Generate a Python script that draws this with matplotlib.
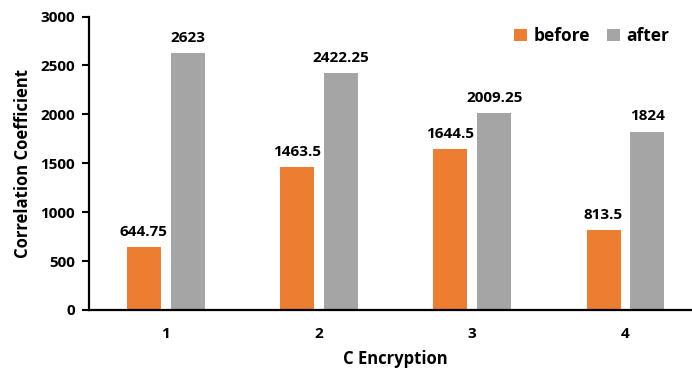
import matplotlib.pyplot as plt
import numpy as np

plt.rcParams['font.family'] = ['Open Sans', 'DejaVu Sans']
plt.rcParams['font.weight'] = 'bold'

categories = ['1', '2', '3', '4']
before = [644.75, 1463.5, 1644.5, 813.5]
after = [2623, 2422.25, 2009.25, 1824]
before_labels = ['644.75', '1463.5', '1644.5', '813.5']
after_labels = ['2623', '2422.25', '2009.25', '1824']

ORANGE = '#ED7D31'
GRAY = '#A5A5A5'

fig = plt.figure(figsize=(6.92, 3.69), dpi=100)
ax = fig.add_axes([0.1286, 0.160, 0.886, 0.795])

x = np.arange(1, len(categories) + 1)
w = 0.222
off = 0.143
b1 = ax.bar(x - off, before, w, color=ORANGE, label='before')
b2 = ax.bar(x + off, after, w, color=GRAY, label='after')

for bars, labels in ((b1, before_labels), (b2, after_labels)):
    for rect, txt in zip(bars, labels):
        ax.annotate(txt, (rect.get_x() + rect.get_width() / 2, rect.get_height()),
                    xytext=(0, 6), textcoords='offset points',
                    ha='center', va='bottom', fontsize=11, fontweight='bold')

ax.set_xlim(0.5, 4.5)
ax.set_ylim(0, 3000)
ax.set_yticks(range(0, 3001, 500))
ax.set_xticks(x)
ax.set_xticklabels(categories)
ax.tick_params(axis='x', length=0, pad=12, labelsize=11)
ax.tick_params(axis='y', length=5, width=1.5, direction='out', labelsize=11, pad=5)

for side in ('top', 'right'):
    ax.spines[side].set_visible(False)
for side in ('left', 'bottom'):
    ax.spines[side].set_linewidth(1.6)
    ax.spines[side].set_color('black')

ax.set_xlabel('C Encryption', fontsize=12, fontweight='bold', labelpad=7)
ax.set_ylabel('Correlation Coefficient', fontsize=12, fontweight='bold', labelpad=6)

ax.legend(loc='upper right', bbox_to_anchor=(0.961, 0.995), ncol=2,
          frameon=False, fontsize=12.5, borderpad=0, handlelength=0.7,
          handleheight=0.7, handletextpad=0.4, columnspacing=1.0)

fig.savefig('out.png', dpi=100)
